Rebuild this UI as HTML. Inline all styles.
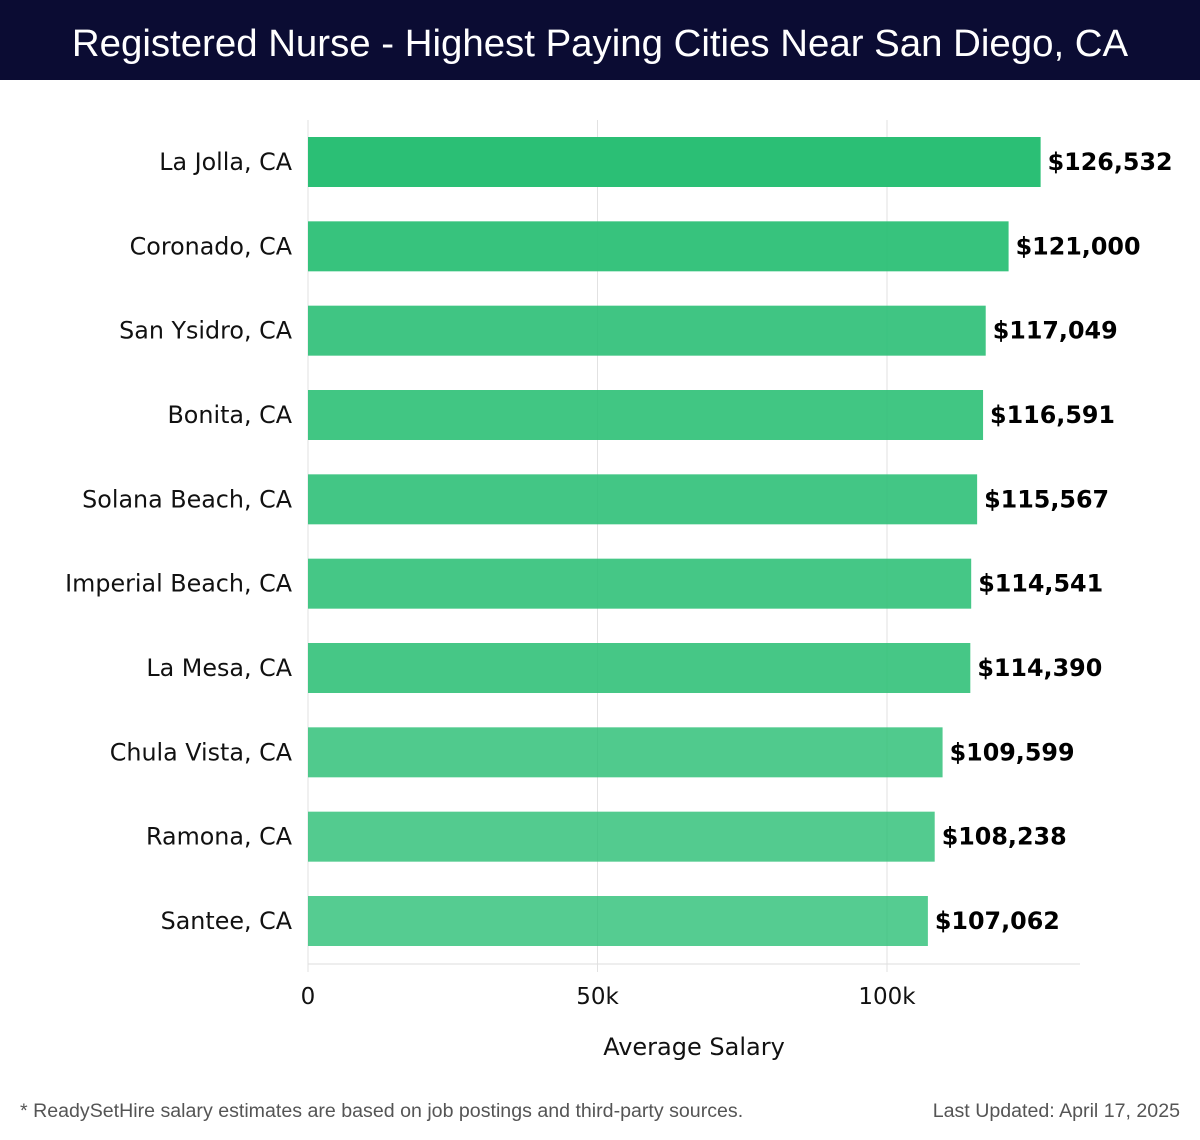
<!DOCTYPE html>
<html><head><meta charset="utf-8"><style>
body{margin:0;width:1200px;height:1140px;background:#fff;font-family:"DejaVu Sans","Liberation Sans",sans-serif;overflow:hidden}
#title{position:absolute;left:0;top:0;width:1200px;height:80px;background:#0b0c33;color:#fff;font-size:38.4px;text-align:center;line-height:88px;font-family:"Liberation Sans","DejaVu Sans",sans-serif}
.foot{position:absolute;top:1100px;font-size:19.6px;color:#555;font-family:"Liberation Sans",sans-serif}
</style></head><body>
<div id="title">Registered Nurse - Highest Paying Cities Near San Diego, CA</div>
<svg id="chart" width="1200" height="1090" style="position:absolute;left:0;top:0"></svg>
<div class="foot" style="left:20px">* ReadySetHire salary estimates are based on job postings and third-party sources.</div>
<div class="foot" style="right:20px">Last Updated: April 17, 2025</div>
<script>
const categories=["La Jolla, CA","Coronado, CA","San Ysidro, CA","Bonita, CA","Solana Beach, CA","Imperial Beach, CA","La Mesa, CA","Chula Vista, CA","Ramona, CA","Santee, CA"];
const values=[126532,121000,117049,116591,115567,114541,114390,109599,108238,107062];
const tickValues=[0,50000,100000];
const tickLabels=["0","50k","100k"];
const NS="http://www.w3.org/2000/svg";
const svg=document.getElementById('chart');
const x0=308,pxPerUnit=(887-308)/100000,xMax=1080;
const x=v=>x0+v*pxPerUnit;
const yTop=120,yBot=964,band=(921-162)/(categories.length-1);
const yc=i=>162+band*i;
function mk(t,a){const e=document.createElementNS(NS,t);for(const k in a)e.setAttribute(k,a[k]);svg.appendChild(e);return e;}
tickValues.forEach((t,i)=>{
 const g=mk('line',{x1:x(t),x2:x(t),y1:yTop,y2:972,stroke:'#e2e2e2','stroke-width':1});
 
 
 const l=mk('text',{x:x(t),y:1004,'text-anchor':'middle','font-size':23,fill:'#111'});
 l.textContent=tickLabels[i];
 
 
});
const ax=mk('line',{x1:x0,x2:xMax,y1:yBot,y2:yBot,stroke:'#ddd','stroke-width':1});


const mn=Math.min(...values),mx=Math.max(...values);
categories.forEach((c,i)=>{
 const v=values[i],cy=yc(i);
 const op=0.8+0.2*(v-mn)/(mx-mn);
 const r=mk('rect',{x:x0,y:cy-25,width:x(v)-x0,height:50,fill:'#2bbf75','fill-opacity':op});
 
 
 const lb=mk('text',{x:292,y:cy+8,'text-anchor':'end','font-size':23.8,fill:'#111'});
 lb.textContent=c;
 
 
 const vl=mk('text',{x:x(v)+7,y:cy+8,'font-size':23.8,'font-weight':'bold',fill:'#000'});
 vl.textContent='$'+v.toLocaleString('en-US');
 
 
});
const at=mk('text',{x:694,y:1055,'text-anchor':'middle','font-size':24,fill:'#111'});
at.textContent='Average Salary';


</script>
</body></html>
